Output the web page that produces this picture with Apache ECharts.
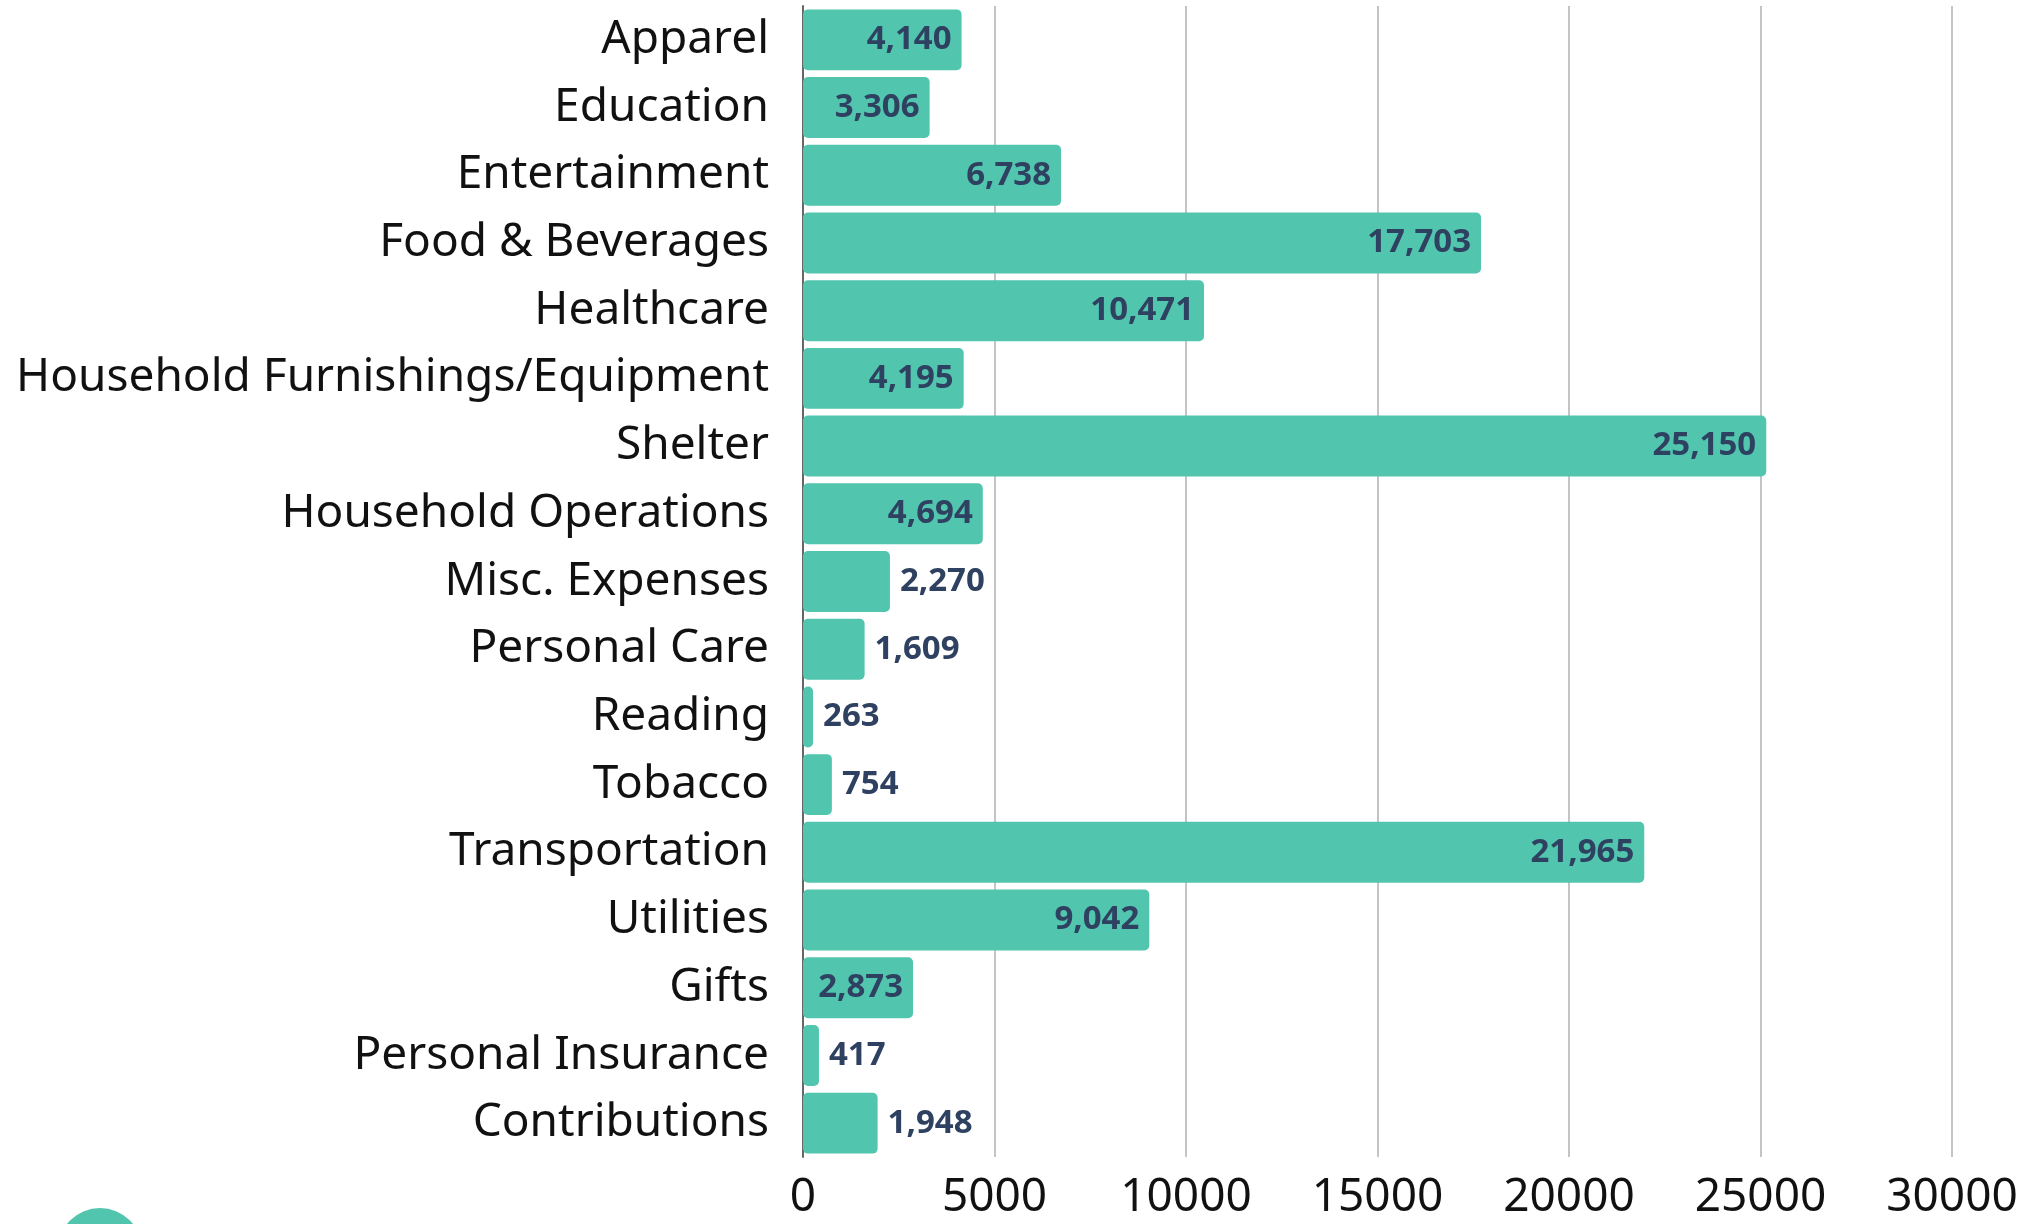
<!DOCTYPE html>
<html>
<head>
<meta charset="utf-8">
<script src="https://cdn.jsdelivr.net/npm/echarts@6/dist/echarts.min.js"></script>
<style>
    html, body { margin: 0; padding: 0; background: #fff; }
    #main { width: 2028px; height: 1224px; }
</style>
</head>
<body>
<div id="main"></div>
<script>
var categories = ['Apparel', 'Education', 'Entertainment', 'Food & Beverages', 'Healthcare',
    'Household Furnishings/Equipment', 'Shelter', 'Household Operations', 'Misc. Expenses',
    'Personal Care', 'Reading', 'Tobacco', 'Transportation', 'Utilities', 'Gifts',
    'Personal Insurance', 'Contributions'];
var spending = [4140, 3306, 6738, 17703, 10471, 4195, 25150, 4694, 2270, 1609, 263, 754,
    21965, 9042, 2873, 417, 1948];
var xTicks = [0, 5000, 10000, 15000, 20000, 25000, 30000];

// 短的柱子把数值放在外面
var barData = spending.map(function (v) {
    return {
        value: v,
        label: { position: v < 2500 ? 'right' : 'insideRight' }
    };
});

var myChart = echarts.init(document.getElementById('main'));

var option = {
    backgroundColor: '#ffffff',
    animation: false,
    grid: { left: 803, right: 76, top: 6, bottom: 67 },
    xAxis: {
        type: 'value',
        min: xTicks[0],
        max: xTicks[xTicks.length - 1],
        interval: xTicks[1] - xTicks[0],
        axisLine: { show: false },
        axisTick: { show: false },
        splitLine: { lineStyle: { color: '#c4c4c4', width: 2 } },
        axisLabel: {
            fontFamily: 'Noto Sans',
            fontSize: 46,
            color: '#111',
            margin: 18,
            formatter: function (v) { return String(v); }
        }
    },
    yAxis: {
        type: 'category',
        inverse: true,
        data: categories,
        axisTick: { show: false },
        axisLine: { show: true, lineStyle: { color: '#666', width: 2 } },
        axisLabel: {
            fontFamily: 'Noto Sans',
            fontSize: 46,
            color: '#111',
            margin: 34
        }
    },
    series: [
        {
            type: 'bar',
            data: barData,
            barCategoryGap: '10%',
            itemStyle: { color: '#52c5ae', borderRadius: 5 },
            label: {
                show: true,
                fontFamily: 'Noto Sans',
                fontWeight: 'bold',
                fontSize: 33,
                color: '#2e4160',
                distance: 10,
                formatter: function (p) {
                    return p.value.toLocaleString('en-US');
                }
            }
        }
    ],
    graphic: [
        { type: 'circle', shape: { cx: 100, cy: 1250, r: 42 }, style: { fill: '#52c5ae' }, z: 1 },
        { type: 'circle', shape: { cx: 118, cy: 1252, r: 30 }, style: { fill: '#2a8fb0' }, z: 0 }
    ]
};

myChart.setOption(option);
</script>
</body>
</html>
